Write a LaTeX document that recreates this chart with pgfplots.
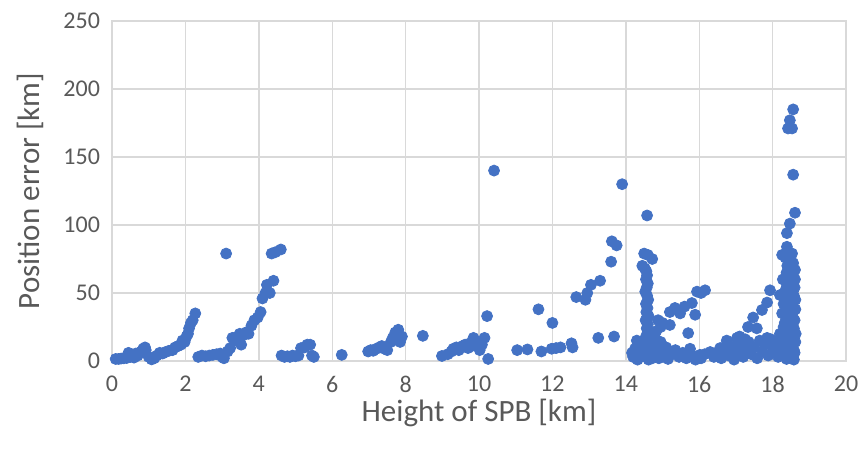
\documentclass[border=0pt]{standalone}
\usepackage{fontspec}
\setmainfont{Carlito}
\usepackage{pgfplots}
\pgfplotsset{compat=1.18}
\usetikzlibrary{calc}
\definecolor{dot}{HTML}{4472C4}
\definecolor{gridc}{HTML}{D9D9D9}
\definecolor{txt}{HTML}{595959}

% height of SPB [km], position error [km]
\pgfplotstableread{
x y
0.10 1.5
0.18 1.5
0.25 1.8
0.32 2
0.40 2.2
0.45 6
0.50 3
0.55 4.5
0.60 2.5
0.65 5.5
0.70 4
0.75 6
0.80 7
0.85 9
0.90 10
0.92 8
1.00 3
1.08 1.2
1.15 2
1.22 4
1.30 6
1.38 5.5
1.45 6.5
1.55 7.5
1.65 8
1.72 10
1.80 11
1.88 12
1.92 15
1.98 14
2.03 18
2.07 20
2.10 24
2.15 28
2.20 30
2.27 35
2.35 3
2.45 4
2.55 3.5
2.65 4
2.75 4.5
2.85 5
2.95 5.5
3.00 3
3.05 2
3.11 79
3.15 7
3.22 9.5
3.28 17
3.35 15
3.42 18
3.48 20
3.52 12
3.58 19
3.65 21
3.72 20
3.80 26
3.88 30
3.97 32
4.05 36
4.10 46
4.18 50
4.22 56
4.30 50
4.40 59
4.35 79
4.45 80
4.60 82
4.62 4
4.70 3
4.78 3.5
4.85 3
4.92 4
5.00 3.5
5.08 4
5.15 9.5
5.25 10
5.32 12
5.40 12
5.45 4
5.50 3
6.26 4.5
6.98 7
7.05 8
7.12 7.5
7.20 9
7.28 10
7.35 11
7.42 9
7.50 8
7.60 14
7.65 17
7.72 21
7.75 16
7.80 23
7.85 14
7.90 18
8.47 18.5
8.99 3.7
9.15 5
9.25 7
9.30 9
9.38 10
9.45 8
9.55 11
9.62 12
9.70 9.5
9.75 13
9.80 11
9.85 17
9.90 14
9.95 12
10.02 8
10.08 12
10.15 17
10.22 33
10.25 1.5
10.41 140
11.04 8
11.32 8.5
11.62 38
11.70 7
12.00 28
11.98 9
12.10 9.5
12.22 10
12.52 13
12.55 10
12.65 47
12.90 45
12.95 50
13.05 56
13.30 59
13.25 17
13.62 88
13.75 85
13.60 73
13.68 18
13.90 130
14.58 107
14.50 79
14.60 78
14.72 75
14.45 70
14.52 68
14.56 66
14.58 63
14.55 60
14.60 57
14.57 54
14.53 51
14.58 48
14.61 45
14.55 42
14.59 39
14.56 36
14.62 33
14.54 30
14.60 27
14.57 24
14.63 21
14.55 18
14.66 16
14.59 13
14.70 12
14.52 10
14.64 8
14.75 7
14.48 6
14.68 5
14.80 4
14.55 3
14.72 2
14.62 1
14.90 2
14.40 3
14.85 9
14.95 14
14.78 18
15.00 6
15.05 3
15.10 10
15.15 1.5
15.25 5
15.35 8
15.45 3
15.55 6
15.65 2
15.75 9
15.82 4
15.90 1
16.05 2
16.15 5
14.25 9
14.20 3
14.32 1
14.45 11
14.30 15
14.17 6
14.83 22
14.95 25
14.88 30
15.00 28
15.20 26.5
15.20 36
15.34 39
15.48 35
15.60 40
15.70 20.5
15.80 42.6
15.89 34
15.94 51
16.05 50
16.16 52
16.02 4.5
16.30 6.6
16.57 9.5
16.76 13
17.03 17
16.40 3
16.50 6
16.60 2
16.70 8
16.80 4
16.88 10
16.95 1
17.05 6
17.12 12
17.20 3
17.28 8
17.35 14
17.42 5
17.50 10
17.58 2
17.65 15
17.72 7
17.80 12
17.88 4
17.95 16
18.02 9
18.10 14
18.15 3
18.20 20
17.10 18
16.75 15
17.25 16
17.03 15.5
17.33 25
17.57 24
17.47 32
17.71 37.5
17.85 43
17.93 52
17.85 17
18.56 185
18.47 177
18.42 171
18.53 171
18.56 137
18.61 109
18.47 101
18.39 94
18.39 84
18.26 78
18.53 79
18.56 72
18.61 67
18.61 60
18.28 60
18.20 48.5
18.35 76
18.45 74
18.40 70
18.50 68
18.38 65
18.55 64
18.45 62
18.42 58
18.52 56
18.60 54
18.35 52
18.47 50
18.58 48
18.40 46
18.55 44
18.30 42
18.48 40
18.62 38
18.38 36
18.52 34
18.44 32
18.60 30
18.33 28
18.50 26
18.58 24
18.40 22
18.55 20
18.28 18
18.47 16
18.62 14
18.36 12
18.52 10
18.44 8
18.60 6
18.30 4
18.50 2
18.58 1
18.38 1.5
18.25 6
18.22 12
18.30 25
18.26 35
18.62 45
18.63 20
18.58 8
18.42 3
18.48 55
18.36 58
18.56 36
18.45 28
18.52 15
18.40 5
}\spbdata

\begin{document}
\begin{tikzpicture}
  \begin{axis}[
    scale only axis,
    width=367pt, height=170pt,
    xmin=0, xmax=20, ymin=0, ymax=250,
    xtick distance=2, ytick distance=50,
    grid=major,
    major grid style={gridc, line width=0.7pt},
    axis line style={gridc, line width=0.7pt},
    tick style={draw=none},
    ticklabel style={font=\fontsize{12}{14}\selectfont, text=txt},
    xticklabel style={yshift=-4pt},
    yticklabel style={xshift=-2.5pt},
    /pgf/number format/assume math mode=true,
    xlabel={Height of SPB [km]},
    ylabel={Position error [km]},
    every axis x label/.style={at={(axis description cs:0.5,0)}, yshift=-26pt,
      anchor=center, font=\fontsize{15.5}{18}\selectfont, text=txt},
    every axis y label/.style={at={(axis description cs:0,0.5)}, xshift=-41pt,
      anchor=center, rotate=90, font=\fontsize{15.5}{18}\selectfont, text=txt},
    clip=false,
  ]
    \addplot[only marks, mark=*, mark size=2.75pt, color=dot] table[x=x, y=y] {\spbdata};
  \end{axis}
  \pgfresetboundingbox
  \path ($(current axis.south west)+(-56pt,-44pt)$) rectangle ($(current axis.north east)+(8pt,10.5pt)$);
\end{tikzpicture}
\end{document}
